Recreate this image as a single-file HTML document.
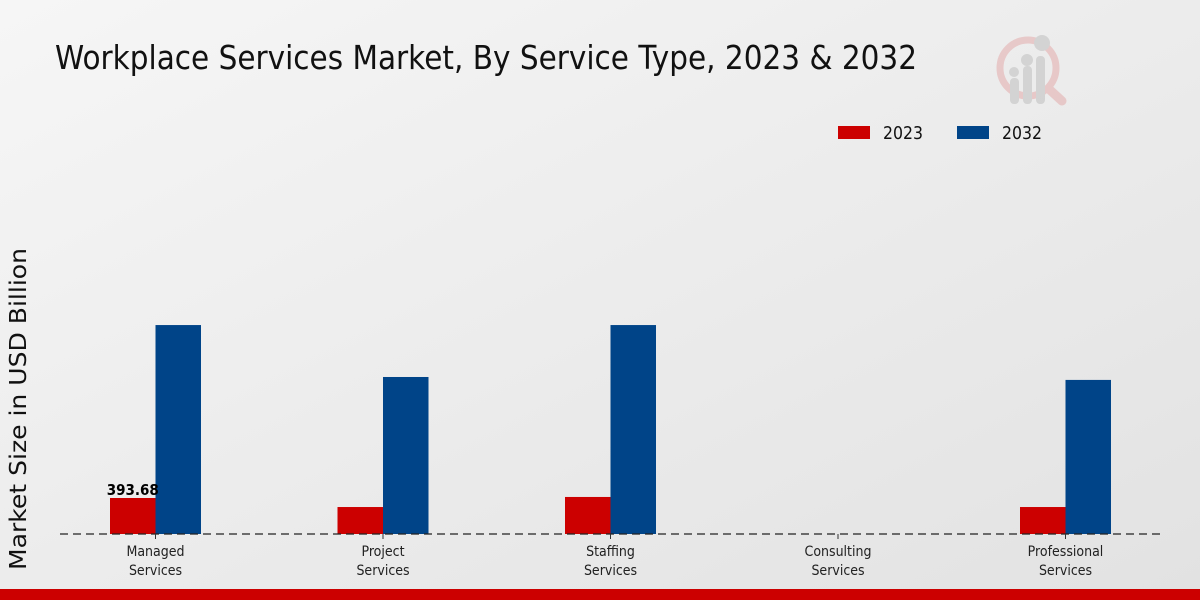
<!DOCTYPE html>
<html><head><meta charset="utf-8"><style>
html,body{margin:0;padding:0;width:1200px;height:600px;overflow:hidden}
svg text{font-family:"DejaVu Sans","Liberation Sans",sans-serif}
.cond{font-family:"DejaVu Sans Condensed","DejaVu Sans","Liberation Sans",sans-serif;font-stretch:condensed}
</style></head><body>
<svg id="chart" width="1200" height="600" xmlns="http://www.w3.org/2000/svg">
<defs>
<linearGradient id="bg" x1="0" y1="0" x2="1" y2="1">
<stop offset="0" stop-color="#f6f6f6"/><stop offset="1" stop-color="#e2e2e2"/>
</linearGradient>
</defs>
<rect width="1200" height="600" fill="url(#bg)"/>
<text x="55" y="69" font-size="33" textLength="862" lengthAdjust="spacingAndGlyphs" fill="#111">Workplace Services Market, By Service Type, 2023 &amp; 2032</text>
<g opacity="0.5">
<circle cx="1028" cy="68" r="28" fill="none" stroke="#e3a6a6" stroke-width="7"/>
<line x1="1050" y1="90" x2="1062" y2="101" stroke="#e3a6a6" stroke-width="9" stroke-linecap="round"/>
<rect x="1010" y="78" width="9" height="26" rx="4" fill="#bbb"/>
<rect x="1023" y="66" width="9" height="38" rx="4" fill="#bbb"/>
<rect x="1036" y="56" width="9" height="48" rx="4" fill="#bbb"/>
<circle cx="1014" cy="72" r="5" fill="#bbb"/><circle cx="1027" cy="60" r="6" fill="#bbb"/><circle cx="1042" cy="43" r="8" fill="#bbb"/>
</g>
<g>
<rect x="838" y="126" width="32" height="13" fill="#cc0000"/>
<text class="cond" x="883" y="139" font-size="18" textLength="40" lengthAdjust="spacingAndGlyphs" fill="#111">2023</text>
<rect x="957" y="126" width="32" height="13" fill="#004488"/>
<text class="cond" x="1002" y="139" font-size="18" textLength="40" lengthAdjust="spacingAndGlyphs" fill="#111">2032</text>
</g>
<text transform="translate(26,409) rotate(-90)" text-anchor="middle" font-size="23" textLength="322" lengthAdjust="spacingAndGlyphs" fill="#111">Market Size in USD Billion</text>
<g id="bars"></g>
<line x1="60" y1="534" x2="1160" y2="534" stroke="#222" stroke-width="1.2" stroke-dasharray="8,5"/>
<g id="xlabels"></g>
<rect x="0" y="589" width="1200" height="11" fill="#cc0000"/>
</svg>
<script>
const categories = ["Managed\nServices","Project\nServices","Staffing\nServices","Consulting\nServices","Professional\nServices"];
const values2023 = [393.68, 295, 405, 0, 295];
const values2032 = [2285, 1717, 2285, 0, 1685];
const labelled2023 = ["393.68", null, null, null, null];

const base = 534, scale = 36 / 393.68;
const x0 = 155.5, step = 227.5, bw = 45.5;
const yScale = v => base - v * scale;
const xCenter = i => x0 + i * step;
const ns = "http://www.w3.org/2000/svg";
const bars = document.getElementById("bars");
const xl = document.getElementById("xlabels");
categories.forEach((c, i) => {
  const cx = xCenter(i);
  [[values2023[i], cx - bw, "#cc0000", "2023"], [values2032[i], cx, "#004488", "2032"]].forEach(([v, x, col, yr]) => {
    if (v <= 0) return;
    const r = document.createElementNS(ns, "rect");
    r.setAttribute("x", x); r.setAttribute("y", yScale(v));
    r.setAttribute("width", bw); r.setAttribute("height", base - yScale(v));
    r.setAttribute("fill", col);
    
    
    bars.appendChild(r);
  });
  if (labelled2023[i]) {
    const t = document.createElementNS(ns, "text");
    t.setAttribute("x", cx - bw / 2); t.setAttribute("y", yScale(values2023[i]) - 3);
    t.setAttribute("text-anchor", "middle"); t.setAttribute("font-size", "15");
    t.setAttribute("font-weight", "bold"); t.setAttribute("fill", "#000");
    t.setAttribute("class", "cond");
    t.textContent = labelled2023[i];
    
    
    bars.appendChild(t);
  }
  const tick = document.createElementNS(ns, "line");
  tick.setAttribute("x1", cx); tick.setAttribute("x2", cx);
  tick.setAttribute("y1", base); tick.setAttribute("y2", base + 5);
  tick.setAttribute("stroke", "#333");
  
  
  xl.appendChild(tick);
  c.split("\n").forEach((line, j) => {
    const t = document.createElementNS(ns, "text");
    t.setAttribute("x", cx); t.setAttribute("y", 556 + j * 19);
    t.setAttribute("text-anchor", "middle"); t.setAttribute("font-size", "14");
    t.setAttribute("fill", "#222");
    t.setAttribute("class", "cond");
    t.textContent = line;
    
    
    xl.appendChild(t);
  });
});
</script>
</body></html>
